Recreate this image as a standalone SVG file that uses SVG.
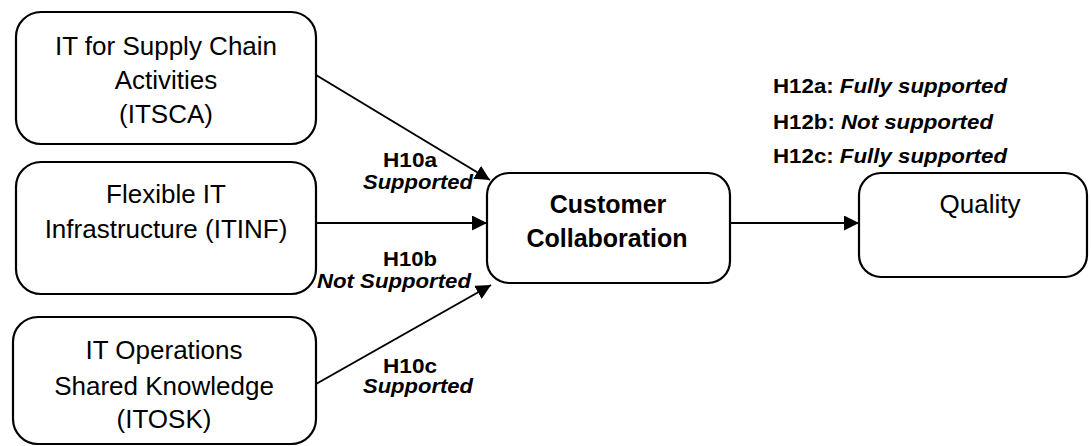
<svg xmlns="http://www.w3.org/2000/svg" width="1091" height="446" viewBox="0 0 1091 446">
<style>
.box{fill:#fff;stroke:#000;stroke-width:2.2}
.t{font-family:"Liberation Sans",Arial,sans-serif;font-size:26px;fill:#000;text-anchor:middle}
.tb{font-family:"Liberation Sans",Arial,sans-serif;font-size:25px;font-weight:bold;fill:#000;text-anchor:middle}
.lb{font-family:"Liberation Sans",Arial,sans-serif;font-size:20px;font-weight:bold;fill:#000;text-anchor:middle}
.li{font-family:"Liberation Sans",Arial,sans-serif;font-size:20px;font-weight:bold;font-style:italic;fill:#000;text-anchor:middle}
.h{font-family:"Liberation Sans",Arial,sans-serif;font-size:20px;font-weight:bold;fill:#000}
.it{font-style:italic}
.c{stroke:#000;stroke-width:2;fill:none}
</style>
<defs>
<marker id="arr" viewBox="0 0 10 10" refX="10" refY="5" markerWidth="7.5" markerHeight="7.5" markerUnits="strokeWidth" orient="auto">
<path d="M0,0 L10,5 L0,10 z" fill="#000"/>
</marker>
</defs>
<g id="connectors">
<line class="c" x1="316" y1="75" x2="490" y2="180" marker-end="url(#arr)"/>
<line class="c" x1="316" y1="223" x2="487" y2="223" marker-end="url(#arr)"/>
<line class="c" x1="316" y1="384" x2="491" y2="285" marker-end="url(#arr)"/>
<line class="c" x1="730" y1="223" x2="859" y2="223" marker-end="url(#arr)"/>
<text class="lb" x="410" y="167" textLength="54" lengthAdjust="spacingAndGlyphs">H10a</text>
<text class="li" x="418" y="189" textLength="110" lengthAdjust="spacingAndGlyphs">Supported</text>
<text class="lb" x="410" y="266" textLength="54" lengthAdjust="spacingAndGlyphs">H10b</text>
<text class="li" x="394" y="288" textLength="154" lengthAdjust="spacingAndGlyphs">Not Supported</text>
<text class="lb" x="410" y="373" textLength="54" lengthAdjust="spacingAndGlyphs">H10c</text>
<text class="li" x="418" y="393" textLength="110" lengthAdjust="spacingAndGlyphs">Supported</text>
</g>
<g id="itsca">
<rect class="box" x="16" y="12" width="300" height="132" rx="25" ry="25"/>
<text class="t" x="166" y="55">IT for Supply Chain</text>
<text class="t" x="166" y="89">Activities</text>
<text class="t" x="166" y="123">(ITSCA)</text>
</g>
<g id="itinf">
<rect class="box" x="16" y="162" width="300" height="132" rx="25" ry="25"/>
<text class="t" x="166" y="203">Flexible  IT</text>
<text class="t" x="166" y="238">Infrastructure (ITINF)</text>
</g>
<g id="itosk">
<rect class="box" x="13" y="317" width="303" height="127" rx="25" ry="25"/>
<text class="t" x="164" y="359">IT Operations</text>
<text class="t" x="164" y="395">Shared Knowledge</text>
<text class="t" x="164" y="428">(ITOSK)</text>
</g>
<g id="cc">
<rect class="box" x="487" y="173" width="243" height="110" rx="22" ry="22"/>
<text class="tb" x="608" y="213">Customer</text>
<text class="tb" x="607" y="247">Collaboration</text>
</g>
<g id="quality">
<rect class="box" x="859" y="173" width="228" height="104" rx="22" ry="22"/>
<text class="t" x="980" y="213">Quality</text>
</g>
<g id="h12">
<text class="h" x="773" y="93" textLength="234" lengthAdjust="spacingAndGlyphs">H12a: <tspan class="it">Fully supported</tspan></text>
<text class="h" x="773" y="129" textLength="220" lengthAdjust="spacingAndGlyphs">H12b: <tspan class="it">Not supported</tspan></text>
<text class="h" x="773" y="163" textLength="234" lengthAdjust="spacingAndGlyphs">H12c: <tspan class="it">Fully supported</tspan></text>
</g>
</svg>
